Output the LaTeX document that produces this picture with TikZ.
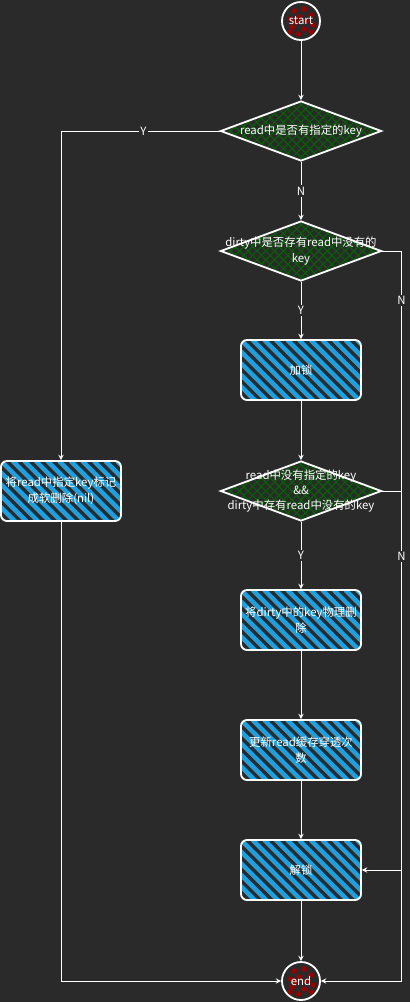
\documentclass[tikz,border=0pt]{standalone}
\usepackage{fontspec}
\setmainfont{Noto Sans CJK SC}
\usetikzlibrary{arrows,positioning,calc,shapes.geometric}

\definecolor{bg}{HTML}{2A2A2A}
\definecolor{hatchblue}{HTML}{1BA1E2}
\definecolor{hatchgreen}{HTML}{006600}
\definecolor{dotred}{HTML}{990000}

\begin{document}
\begin{tikzpicture}[x=0.025cm, y=-0.025cm, >=stealth,
  every node/.style={text=white, font=\fontsize{8.1pt}{11pt}\selectfont},
  process/.style={rectangle, rounded corners=0.15cm, draw=white, line width=1.3pt,
    minimum width=3cm, minimum height=1.5cm, align=center, inner sep=0pt,
    path picture={\foreach \k in {-8,...,12}
      \draw[hatchblue, line width=3.2pt] ([xshift=\k*0.29cm]path picture bounding box.north west) -- ++(2cm,-2cm);}},
  decision/.style={diamond, draw=white, line width=1.3pt,
    minimum width=4.025cm, minimum height=1.5cm, inner sep=0pt,
    path picture={\foreach \k in {-12,...,12} {
      \draw[hatchgreen, line width=0.7pt] ([xshift=\k*0.22cm]path picture bounding box.center) ++(-1.5cm,-1.5cm) -- ++(3cm,3cm);
      \draw[hatchgreen, line width=0.7pt] ([xshift=\k*0.22cm]path picture bounding box.center) ++(-1.5cm,1.5cm) -- ++(3cm,-3cm);}}},
  dtext/.style={align=center, inner sep=0pt},
  terminal/.style={circle, draw=white, line width=1.3pt, minimum size=0.95cm, inner sep=0pt,
    path picture={\foreach \a/\b in {-7/-10,3/-12,10/-6,-11/-2,-2/-4,12/4,-9/6,3/8,10/11,-3/13,-11/11,-5/1,6/0}
      \fill[dotred] ([shift={(\a,\b)}]path picture bounding box.center) circle (2pt);}},
  line/.style={draw=white, line width=0.7pt},
  elabel/.style={fill=bg, inner sep=1pt}]

% background
\path[use as bounding box, fill=bg] (0,0) rectangle (410,1002);

% start and end
\node[terminal, name=start] at (301,21) {start};
\node[terminal, name=stop] at (301,981) {end};

% decisions
\node[decision, name=d1, label={[dtext]center:read中是否有指定的key}] at (301,131) {};
\node[decision, name=d2, label={[dtext]center:dirty中是否存有read中没有的\\key}] at (301,251) {};
\node[decision, name=d3, label={[dtext]center:read中没有指定的key\\\&\&\\dirty中存有read中没有的key}] at (301,491) {};

% processes
\node[process, name=lock] at (301,370) {加锁};
\node[process, name=del] at (301,620) {将dirty中的key物理删\\除};
\node[process, name=miss] at (301,750) {更新read缓存穿透次\\数};
\node[process, name=unlock] at (301,870) {解锁};
\node[process, name=softdel] at (61,491) {将read中指定key标记\\成软删除(nil)};

% arrows
\draw[line, ->] (start) -- (d1);
\draw[line, ->] (d1.west) -| node[elabel, pos=0.24] {Y} (softdel.north);
\draw[line, ->] (d1) -- node[elabel] {N} (d2);
\draw[line, ->] (d2) -- node[elabel] {Y} (lock);
\draw[line, ->] (d2.east) -- ++(19,0) |- node[elabel, pos=0.04] {N} (unlock.east);
\draw[line, ->] (lock) -- (d3);
\draw[line, ->] (d3) -- node[elabel] {Y} (del);
\draw[line, ->] (d3.east) -- ++(19,0) |- node[elabel, pos=0.067] {N} (stop.east);
\draw[line, ->] (del) -- (miss);
\draw[line, ->] (miss) -- (unlock);
\draw[line, ->] (unlock) -- (stop);
\draw[line, ->] (softdel.south) |- (stop.west);
\end{tikzpicture}
\end{document}
